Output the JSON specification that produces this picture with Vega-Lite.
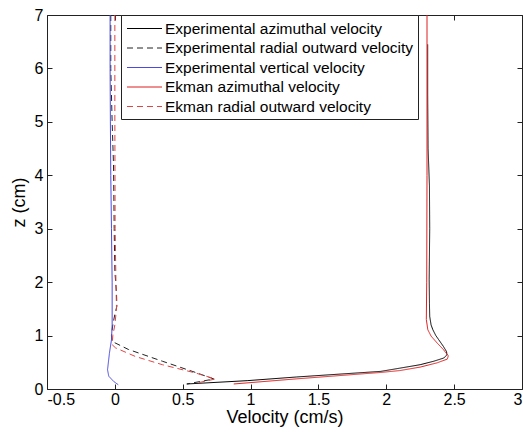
{
  "$schema": "https://vega.github.io/schema/vega-lite/v6.json",
  "width": 475,
  "height": 374,
  "autosize": {"type": "none"},
  "padding": {"left": 47, "top": 15, "right": 1, "bottom": 43},
  "background": "white",
  "config": {
    "view": {"stroke": "#222", "strokeWidth": 1},
    "axis": {
      "labelFont": "Liberation Sans", "titleFont": "Liberation Sans",
      "labelFontSize": 16, "titleFontSize": 18, "labelColor": "#000", "titleColor": "#000",
      "titleFontWeight": "normal", "grid": false, "domain": false,
      "tickColor": "#222", "tickSize": 5, "tickWidth": 1, "offset": -5
    },
    "legend": {
      "labelFont": "Liberation Sans", "labelFontSize": 15.5, "labelColor": "#000", "labelLimit": 400
    }
  },
  "data": {"values": [
    {"s": "Experimental azimuthal velocity", "v": 2.305, "z": 6.45},
    {"s": "Experimental azimuthal velocity", "v": 2.305, "z": 5.5},
    {"s": "Experimental azimuthal velocity", "v": 2.308, "z": 4.5},
    {"s": "Experimental azimuthal velocity", "v": 2.318, "z": 3.8},
    {"s": "Experimental azimuthal velocity", "v": 2.32, "z": 3.0},
    {"s": "Experimental azimuthal velocity", "v": 2.316, "z": 2.05},
    {"s": "Experimental azimuthal velocity", "v": 2.318, "z": 1.6},
    {"s": "Experimental azimuthal velocity", "v": 2.32, "z": 1.36},
    {"s": "Experimental azimuthal velocity", "v": 2.33, "z": 1.2},
    {"s": "Experimental azimuthal velocity", "v": 2.343, "z": 1.11},
    {"s": "Experimental azimuthal velocity", "v": 2.365, "z": 1.0},
    {"s": "Experimental azimuthal velocity", "v": 2.387, "z": 0.92},
    {"s": "Experimental azimuthal velocity", "v": 2.42, "z": 0.8},
    {"s": "Experimental azimuthal velocity", "v": 2.444, "z": 0.7},
    {"s": "Experimental azimuthal velocity", "v": 2.447, "z": 0.64},
    {"s": "Experimental azimuthal velocity", "v": 2.424, "z": 0.58},
    {"s": "Experimental azimuthal velocity", "v": 2.35, "z": 0.52},
    {"s": "Experimental azimuthal velocity", "v": 2.25, "z": 0.455},
    {"s": "Experimental azimuthal velocity", "v": 2.1, "z": 0.39},
    {"s": "Experimental azimuthal velocity", "v": 1.96, "z": 0.33},
    {"s": "Experimental azimuthal velocity", "v": 1.34, "z": 0.225},
    {"s": "Experimental azimuthal velocity", "v": 0.975, "z": 0.156},
    {"s": "Experimental azimuthal velocity", "v": 0.53, "z": 0.094},
    {"s": "Experimental radial outward velocity", "v": -0.03, "z": 7},
    {"s": "Experimental radial outward velocity", "v": -0.03, "z": 6},
    {"s": "Experimental radial outward velocity", "v": -0.02, "z": 5},
    {"s": "Experimental radial outward velocity", "v": -0.01, "z": 4.2},
    {"s": "Experimental radial outward velocity", "v": -0.005, "z": 3},
    {"s": "Experimental radial outward velocity", "v": 0.0, "z": 2.2},
    {"s": "Experimental radial outward velocity", "v": 0.012, "z": 1.8},
    {"s": "Experimental radial outward velocity", "v": 0.015, "z": 1.55},
    {"s": "Experimental radial outward velocity", "v": 0.0, "z": 1.4},
    {"s": "Experimental radial outward velocity", "v": -0.015, "z": 1.2},
    {"s": "Experimental radial outward velocity", "v": -0.025, "z": 1.0},
    {"s": "Experimental radial outward velocity", "v": -0.02, "z": 0.89},
    {"s": "Experimental radial outward velocity", "v": 0.1, "z": 0.74},
    {"s": "Experimental radial outward velocity", "v": 0.35, "z": 0.52},
    {"s": "Experimental radial outward velocity", "v": 0.594, "z": 0.31},
    {"s": "Experimental radial outward velocity", "v": 0.73, "z": 0.187},
    {"s": "Experimental radial outward velocity", "v": 0.53, "z": 0.094},
    {"s": "Experimental vertical velocity", "v": -0.035, "z": 7},
    {"s": "Experimental vertical velocity", "v": -0.035, "z": 6},
    {"s": "Experimental vertical velocity", "v": -0.033, "z": 5},
    {"s": "Experimental vertical velocity", "v": -0.03, "z": 4},
    {"s": "Experimental vertical velocity", "v": -0.025, "z": 3},
    {"s": "Experimental vertical velocity", "v": -0.02, "z": 2},
    {"s": "Experimental vertical velocity", "v": -0.02, "z": 1.2},
    {"s": "Experimental vertical velocity", "v": -0.025, "z": 0.92},
    {"s": "Experimental vertical velocity", "v": -0.04, "z": 0.67},
    {"s": "Experimental vertical velocity", "v": -0.054, "z": 0.36},
    {"s": "Experimental vertical velocity", "v": -0.045, "z": 0.24},
    {"s": "Experimental vertical velocity", "v": -0.008, "z": 0.14},
    {"s": "Experimental vertical velocity", "v": 0.025, "z": 0.08},
    {"s": "Ekman azimuthal velocity", "v": 2.3, "z": 7},
    {"s": "Ekman azimuthal velocity", "v": 2.3, "z": 4},
    {"s": "Ekman azimuthal velocity", "v": 2.298, "z": 2},
    {"s": "Ekman azimuthal velocity", "v": 2.295, "z": 1.3},
    {"s": "Ekman azimuthal velocity", "v": 2.306, "z": 1.11},
    {"s": "Ekman azimuthal velocity", "v": 2.33, "z": 0.99},
    {"s": "Ekman azimuthal velocity", "v": 2.375, "z": 0.86},
    {"s": "Ekman azimuthal velocity", "v": 2.42, "z": 0.74},
    {"s": "Ekman azimuthal velocity", "v": 2.457, "z": 0.62},
    {"s": "Ekman azimuthal velocity", "v": 2.45, "z": 0.56},
    {"s": "Ekman azimuthal velocity", "v": 2.375, "z": 0.49},
    {"s": "Ekman azimuthal velocity", "v": 2.25, "z": 0.41},
    {"s": "Ekman azimuthal velocity", "v": 2.1, "z": 0.345},
    {"s": "Ekman azimuthal velocity", "v": 1.96, "z": 0.31},
    {"s": "Ekman azimuthal velocity", "v": 1.34, "z": 0.19},
    {"s": "Ekman azimuthal velocity", "v": 0.876, "z": 0.094},
    {"s": "Ekman radial outward velocity", "v": 0.0, "z": 7},
    {"s": "Ekman radial outward velocity", "v": 0.0, "z": 5},
    {"s": "Ekman radial outward velocity", "v": 0.002, "z": 3},
    {"s": "Ekman radial outward velocity", "v": 0.008, "z": 2},
    {"s": "Ekman radial outward velocity", "v": 0.012, "z": 1.5},
    {"s": "Ekman radial outward velocity", "v": 0.0, "z": 1.2},
    {"s": "Ekman radial outward velocity", "v": -0.015, "z": 1.0},
    {"s": "Ekman radial outward velocity", "v": -0.02, "z": 0.83},
    {"s": "Ekman radial outward velocity", "v": 0.005, "z": 0.77},
    {"s": "Ekman radial outward velocity", "v": 0.15, "z": 0.61},
    {"s": "Ekman radial outward velocity", "v": 0.35, "z": 0.455},
    {"s": "Ekman radial outward velocity", "v": 0.594, "z": 0.3},
    {"s": "Ekman radial outward velocity", "v": 0.74, "z": 0.187},
    {"s": "Ekman radial outward velocity", "v": 0.6, "z": 0.11}
  ]},
  "layer": [
    {
      "mark": {"type": "line", "strokeWidth": 1},
      "encoding": {
        "x": {"field": "v", "type": "quantitative",
          "scale": {"domain": [-0.5, 3], "nice": false, "zero": false},
          "axis": {"title": "Velocity (cm/s)", "values": [-0.5, 0, 0.5, 1, 1.5, 2, 2.5, 3], "labelExpr": "'' + datum.value", "labelPadding": 2, "titlePadding": 1}},
        "y": {"field": "z", "type": "quantitative",
          "scale": {"domain": [0, 7], "nice": false, "zero": false},
          "axis": {"title": "z (cm)", "values": [0, 1, 2, 3, 4, 5, 6, 7], "labelExpr": "'' + datum.value", "labelPadding": 4, "titlePadding": 6}},
        "color": {"field": "s", "type": "nominal",
          "scale": {"domain": ["Experimental azimuthal velocity", "Experimental radial outward velocity", "Experimental vertical velocity", "Ekman azimuthal velocity", "Ekman radial outward velocity"],
                    "range": ["#000000", "#222222", "#4a4ae0", "#e01e1e", "#e04545"]},
          "legend": {"title": null, "orient": "none", "legendX": 74, "legendY": 0,
            "strokeColor": "#222", "fillColor": "white", "padding": 4,
            "symbolType": "M-2,0H2", "symbolSize": 306, "symbolStrokeWidth": 1,
            "symbolOffset": 10, "labelOffset": 11, "rowPadding": 1.5,
            "encode": {"symbols": {"update": {
              "stroke": {"scale": "color", "field": "value"},
              "strokeDash": {"scale": "strokeDash", "field": "value"},
              "fill": {"value": "transparent"}
            }}}}},
        "strokeDash": {"field": "s", "type": "nominal",
          "scale": {"domain": ["Experimental azimuthal velocity", "Experimental radial outward velocity", "Experimental vertical velocity", "Ekman azimuthal velocity", "Ekman radial outward velocity"],
                    "range": [[1, 0], [6, 4], [1, 0], [1, 0], [6, 4]]},
          "legend": null},
        "order": {"field": "z", "type": "quantitative", "sort": "descending"}
      }
    },
    {
      "mark": {"type": "line", "opacity": 0},
      "encoding": {
        "x": {"field": "v", "type": "quantitative",
          "axis": {"orient": "top", "title": null, "labels": false, "values": [-0.5, 0, 0.5, 1, 1.5, 2, 2.5, 3]}},
        "y": {"field": "z", "type": "quantitative",
          "axis": {"orient": "right", "title": null, "labels": false, "values": [0, 1, 2, 3, 4, 5, 6, 7]}},
        "detail": {"field": "s", "type": "nominal"}
      }
    }
  ],
  "resolve": {"axis": {"x": "independent", "y": "independent"}}
}
